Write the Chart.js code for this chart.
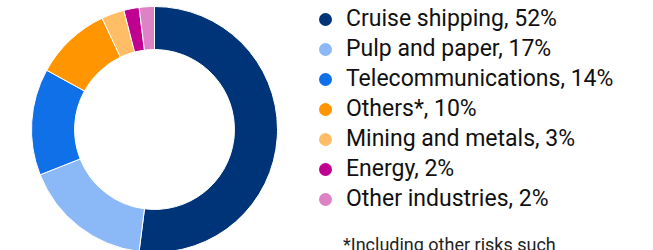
<!DOCTYPE html>
<html>
<head>
<meta charset="utf-8">
<title>Industry breakdown</title>
<script src="https://cdn.jsdelivr.net/npm/chart.js"></script>
<style>
  html, body { margin: 0; padding: 0; background: #fff; }
  body { width: 653px; height: 250px; overflow: hidden; position: relative; font-family: Roboto, "Noto Sans", sans-serif; color: #111; }
  #donutWrap { position: absolute; left: 31px; top: 6px; width: 247px; height: 247px; }
  #legend { position: absolute; left: 319px; top: 4px; margin: 0; padding: 0; list-style: none; }
  #legend li { position: relative; height: 30px; line-height: 30px; font-size: 23px; padding-left: 27px; white-space: nowrap; }
  #legend .dot { position: absolute; left: 0; top: 8.5px; width: 13px; height: 13px; border-radius: 50%; }
  #note { position: absolute; left: 343px; top: 236px; font-size: 18px; line-height: 18px; color: #222; white-space: nowrap; }
</style>
</head>
<body>
  <div id="donutWrap"><canvas id="donut"></canvas></div>
  <ul id="legend"></ul>
  <div id="note">*Including other risks such</div>

  <script>
    const categories = ['Cruise shipping', 'Pulp and paper', 'Telecommunications', 'Others*', 'Mining and metals', 'Energy', 'Other industries'];
    const shares = [52, 17, 14, 10, 3, 2, 2];
    const colors = ['#003478', '#8bb8f6', '#0f70e8', '#ff9500', '#ffbe66', '#bf0090', '#de82c6'];

    // legend on the right, built from the same arrays
    let html = '';
    categories.forEach((name, i) => {
      html += '<li><span class="dot" style="background:' + colors[i] + '"></span>' + name + ', ' + shares[i] + '%</li>';
    });
    document.getElementById('legend').innerHTML = html;

    new Chart(document.getElementById('donut'), {
      type: 'doughnut',
      data: {
        labels: categories,
        datasets: [{
          data: shares,
          backgroundColor: colors,
          borderColor: '#ffffff',
          borderWidth: 1
        }]
      },
      options: {
        responsive: true,
        maintainAspectRatio: false,
        animation: false,
        cutout: '65%',
        events: [],
        plugins: {
          legend: { display: false },
          tooltip: { enabled: false }
        }
      }
    });
  </script>
</body>
</html>
